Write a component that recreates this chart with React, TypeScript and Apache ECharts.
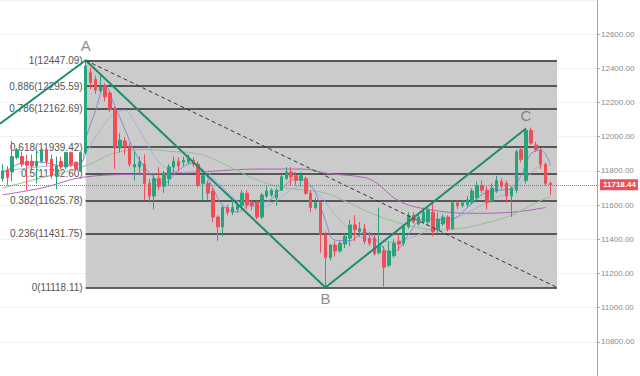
import { useEffect, useRef } from "react";
import * as echarts from "echarts";

// ---------- data ----------
const SLOTS = 122;
const categories = Array.from({ length: SLOTS }, (_, i) => `D${i + 1}`);

// [open, close, low, high]
const candles: [number, number, number, number][] = [
  [11755, 11800, 11738, 11839], [11806, 11761, 11715, 11828], [11794, 11884, 11738, 11975], [11879, 11924, 11868, 11935],
  [11884, 11839, 11823, 11913], [11856, 11834, 11687, 11896], [11856, 11828, 11800, 11896], [11828, 11856, 11727, 11913],
  [11856, 11924, 11845, 11935], [11924, 11856, 11828, 11935], [11868, 11772, 11755, 11896], [11772, 11828, 11693, 11884],
  [11856, 11823, 11811, 11884], [11823, 11907, 11811, 11913], [11907, 11839, 11823, 11913], [11851, 11811, 11800, 11856],
  [11800, 11907, 11794, 11913], [11907, 12414, 11896, 12447.09], [12375, 12318, 12279, 12403], [12335, 12273, 12251, 12358],
  [12268, 12290, 12262, 12363], [12290, 12234, 12206, 12313], [12256, 12161, 12144, 12268], [12161, 11935, 11811, 12177],
  [11935, 11980, 11907, 12020], [11975, 11941, 11896, 11997], [11941, 11839, 11823, 11963], [11823, 11839, 11744, 11913],
  [11823, 11851, 11783, 11884], [11839, 11727, 11631, 11896], [11727, 11653, 11614, 11755], [11653, 11755, 11575, 11783],
  [11755, 11710, 11687, 11823], [11710, 11783, 11670, 11800], [11755, 11823, 11715, 11839], [11823, 11856, 11794, 11884],
  [11856, 11828, 11800, 11879], [11851, 11862, 11828, 11884], [11851, 11873, 11839, 11896], [11862, 11839, 11823, 11879],
  [11839, 11715, 11704, 11856], [11727, 11772, 11631, 11783], [11727, 11670, 11631, 11744], [11682, 11530, 11501, 11699],
  [11530, 11473, 11389, 11541], [11473, 11586, 11417, 11597], [11586, 11558, 11541, 11603], [11558, 11586, 11541, 11625],
  [11575, 11597, 11558, 11614], [11597, 11670, 11575, 11687], [11670, 11603, 11575, 11687], [11614, 11597, 11569, 11631],
  [11614, 11530, 11518, 11625], [11530, 11659, 11518, 11670], [11653, 11682, 11642, 11710], [11659, 11687, 11648, 11699],
  [11642, 11687, 11597, 11699], [11687, 11766, 11682, 11783], [11755, 11794, 11744, 11823], [11794, 11766, 11715, 11823],
  [11772, 11744, 11715, 11794], [11744, 11772, 11710, 11794], [11755, 11670, 11659, 11766], [11670, 11586, 11558, 11687],
  [11586, 11614, 11575, 11642], [11614, 11428, 11321, 11625], [11428, 11293, 11118.11, 11445], [11293, 11366, 11276, 11372],
  [11366, 11332, 11299, 11389], [11332, 11377, 11321, 11389], [11372, 11417, 11349, 11434], [11406, 11484, 11361, 11513],
  [11484, 11456, 11389, 11541], [11445, 11462, 11417, 11501], [11462, 11389, 11372, 11490], [11406, 11377, 11361, 11445],
  [11406, 11315, 11304, 11428], [11321, 11361, 11310, 11586], [11332, 11237, 11124, 11361], [11248, 11332, 11237, 11389],
  [11304, 11377, 11293, 11400], [11389, 11372, 11332, 11434], [11377, 11473, 11361, 11490], [11473, 11541, 11462, 11558],
  [11541, 11501, 11490, 11558], [11490, 11530, 11479, 11546], [11501, 11558, 11490, 11586], [11501, 11569, 11479, 11586],
  [11558, 11445, 11417, 11614], [11456, 11518, 11434, 11558], [11490, 11530, 11479, 11546], [11530, 11462, 11445, 11541],
  [11462, 11614, 11456, 11631], [11614, 11597, 11575, 11631], [11597, 11614, 11586, 11631], [11603, 11631, 11586, 11653],
  [11614, 11682, 11603, 11699], [11642, 11715, 11631, 11738], [11715, 11687, 11670, 11744], [11687, 11614, 11575, 11710],
  [11625, 11699, 11614, 11727], [11682, 11744, 11670, 11772], [11738, 11710, 11693, 11755], [11727, 11653, 11614, 11744],
  [11653, 11699, 11530, 11710], [11687, 11913, 11670, 11924], [11924, 11868, 11851, 11941], [11744, 12037, 11727, 12048],
  [12037, 11963, 11952, 12053], [11952, 11924, 11913, 11969], [11924, 11839, 11811, 11935], [11839, 11727, 11715, 11851],
  [11727, 11718.44, 11659, 11738],
];

// moving-average lines: [slot index, price]
const maFast: [number, number][] = [
  [0, 11783], [4, 11845], [8, 11851], [12, 11830], [16, 11845], [17, 11985], [19, 12150], [21, 12300], [23, 12177],
  [25, 12045], [27, 11915], [30, 11790], [33, 11730], [36, 11805], [39, 11845], [41, 11805], [43, 11700], [45, 11600],
  [48, 11560], [51, 11612], [54, 11620], [57, 11697], [60, 11752], [62, 11740], [64, 11670], [66, 11510], [68, 11395],
  [71, 11392], [74, 11440], [77, 11378], [79, 11324], [81, 11345], [83, 11430], [86, 11518], [89, 11515], [92, 11520],
  [95, 11585], [98, 11662], [101, 11685], [104, 11695], [106, 11775], [108, 11900], [110, 11920], [112, 11836],
];
const maMid: [number, number][] = [
  [0, 11800], [8, 11825], [16, 11850], [17, 11900], [20, 12040], [23, 12140], [25, 12155], [27, 12085], [29, 11990],
  [32, 11850], [35, 11800], [38, 11790], [41, 11800], [44, 11735], [47, 11650], [50, 11595], [53, 11590], [56, 11625],
  [59, 11690], [62, 11715], [65, 11650], [68, 11545], [71, 11455], [74, 11405], [77, 11398], [80, 11382], [83, 11405],
  [86, 11440], [89, 11485], [92, 11520], [95, 11555], [98, 11600], [101, 11645], [104, 11680], [107, 11760], [110, 11828],
  [112, 11832],
];
const maSlow: [number, number][] = [
  [0, 11700], [8, 11760], [17, 11830], [23, 11905], [29, 11925], [34, 11915], [40, 11900], [46, 11830], [51, 11760],
  [56, 11710], [61, 11690], [66, 11670], [71, 11610], [76, 11545], [83, 11480], [89, 11455], [94, 11465], [98, 11490],
  [104, 11540], [108, 11600], [112, 11650],
];
const maLong: [number, number][] = [
  [0, 11660], [8, 11700], [17, 11765], [30, 11783], [40, 11794], [53, 11811], [61, 11811], [67, 11783], [73, 11766],
  [76, 11738], [81, 11625], [87, 11575], [96, 11552], [104, 11558], [111, 11586],
];

const fibRatios = ["1", "0.886", "0.786", "0.618", "0.5", "0.382", "0.236", "0"];
const fibValues = [12447.09, 12295.59, 12162.69, 11939.42, 11782.6, 11625.78, 11431.75, 11118.11];
const fibStart = 17;
const fibEnd = 113.33;

const pivotNames = ["A", "B", "C"];
const pivotX = [17, 66, 107];
const pivotY = [12447.09, 11118.11, 12048];
const leadIn: [number, number] = [-0.5, 12076];
const lastPrice = 11718.44;

const yMin = 10600;
const yMax = 12800;
const yStep = 200;

// ---------- component ----------
export default function App() {
  const ref = useRef<HTMLDivElement>(null);

  useEffect(() => {
    if (!ref.current) return;
    const chart = echarts.init(ref.current, undefined, { renderer: "svg" });
    const font = "'Liberation Sans', Arial, sans-serif";

    const zig = [leadIn, ...pivotX.map((x, i) => [x, pivotY[i]])];
    const hiddenX = {
      show: false,
      axisLine: { show: false, onZero: false },
      axisTick: { show: false },
      axisLabel: { show: false },
      splitLine: { show: false },
    };

    chart.setOption({
      animation: false,
      backgroundColor: "#ffffff",
      textStyle: { fontFamily: font },
      grid: { left: 0, right: 43, top: -10.52, bottom: -4.2, containLabel: false },
      xAxis: [
        { type: "category", data: categories, boundaryGap: true, ...hiddenX },
        { type: "value", min: -0.5, max: SLOTS - 0.5, ...hiddenX },
      ],
      yAxis: {
        type: "value",
        position: "right",
        min: yMin,
        max: yMax,
        interval: yStep,
        axisLine: { show: true, onZero: false, lineStyle: { color: "#a8a8a8", width: 1 } },
        axisTick: { show: true, length: 3, lineStyle: { color: "#a8a8a8" } },
        axisLabel: {
          show: true,
          fontSize: 8,
          color: "#8a8a8a",
          margin: 4,
          fontFamily: font,
          showMinLabel: false,
          showMaxLabel: false,
          formatter: (v: number) => v.toFixed(2),
        },
        splitLine: { show: true, lineStyle: { color: "#f1f1f1", width: 1 } },
      },
      series: [
        {
          name: "fib",
          type: "line",
          xAxisIndex: 1,
          data: [[fibStart, fibValues[0]]],
          symbol: "none",
          lineStyle: { width: 0 },
          silent: true,
          z: 1,
          markArea: {
            silent: true,
            z: 1,
            label: { show: false },
            itemStyle: { color: "#cbcbcb", opacity: 1 },
            data: [[{ coord: [fibStart, fibValues[0]] }, { coord: [fibEnd, fibValues[fibValues.length - 1]] }]],
          },
          markLine: {
            silent: true,
            z: 1.5,
            symbol: ["none", "none"],
            animation: false,
            lineStyle: { color: "#303030", width: 1.5, type: "solid" },
            label: {
              show: true,
              position: "start",
              distance: 3,
              fontSize: 10,
              color: "#555555",
              fontFamily: font,
            },
            data: fibValues.map((v, i) => [
              { coord: [fibStart, v], label: { formatter: `${fibRatios[i]}(${v.toFixed(2)})` } },
              { coord: [fibEnd, v] },
            ]),
          },
        },
        {
          name: "maLong",
          type: "line",
          xAxisIndex: 1,
          data: maLong,
          symbol: "none",
          smooth: 0.4,
          lineStyle: { color: "#b062b3", width: 1 },
          silent: true,
          z: 2,
        },
        {
          name: "maSlow",
          type: "line",
          xAxisIndex: 1,
          data: maSlow,
          symbol: "none",
          smooth: 0.4,
          lineStyle: { color: "#93bf8f", width: 1 },
          silent: true,
          z: 2,
        },
        {
          name: "maMid",
          type: "line",
          xAxisIndex: 1,
          data: maMid,
          symbol: "none",
          smooth: 0.4,
          lineStyle: { color: "#a2b3dc", width: 1 },
          silent: true,
          z: 2,
        },
        {
          name: "maFast",
          type: "line",
          xAxisIndex: 1,
          data: maFast,
          symbol: "none",
          smooth: 0.4,
          lineStyle: { color: "#8a87d6", width: 1 },
          silent: true,
          z: 2,
        },
        {
          name: "price",
          type: "candlestick",
          xAxisIndex: 0,
          data: candles,
          barWidth: 3,
          z: 2.5,
          itemStyle: {
            color: "#27a47c",
            color0: "#ef4e57",
            borderColor: "#27a47c",
            borderColor0: "#ef4e57",
            borderWidth: 1,
          },
          markLine: {
            silent: true,
            z: 5,
            symbol: ["none", "none"],
            lineStyle: { color: "#ef4e57", width: 1, type: "dotted" },
            label: {
              show: true,
              position: "end",
              distance: 3,
              formatter: lastPrice.toFixed(2),
              backgroundColor: "#ef4e57",
              color: "#ffffff",
              fontSize: 8,
              fontWeight: "bold",
              padding: [2, 2, 1, 3],
              fontFamily: font,
            },
            data: [{ yAxis: lastPrice }],
          },
        },
        {
          name: "zigzag",
          type: "line",
          xAxisIndex: 1,
          data: zig,
          symbol: "none",
          lineStyle: { color: "#1d8d6d", width: 2 },
          silent: true,
          z: 3,
        },
        {
          name: "trend",
          type: "line",
          xAxisIndex: 1,
          data: [[fibStart, fibValues[0]], [fibEnd, fibValues[fibValues.length - 1]]],
          symbol: "none",
          lineStyle: { color: "#333333", width: 1, type: [4, 3] },
          silent: true,
          z: 3,
        },
        {
          name: "pivots",
          type: "scatter",
          xAxisIndex: 1,
          symbolSize: 1,
          itemStyle: { color: "rgba(0,0,0,0)" },
          silent: true,
          z: 3,
          data: pivotNames.map((n, i) => ({
            name: n,
            value: [pivotX[i], pivotY[i]],
            label: { position: n === "B" ? "bottom" : "top", distance: n === "A" ? 7 : n === "C" ? 5 : 3 },
          })),
          label: {
            show: true,
            formatter: "{b}",
            fontSize: 15,
            color: "#6e6e6e",
            distance: 3,
            fontFamily: font,
          },
        },
      ],
    });

    return () => chart.dispose();
  }, []);

  return (
    <div
      ref={ref}
      style={{ position: "fixed", left: 0, top: 0, width: 640, height: 376, background: "#fff" }}
    />
  );
}
